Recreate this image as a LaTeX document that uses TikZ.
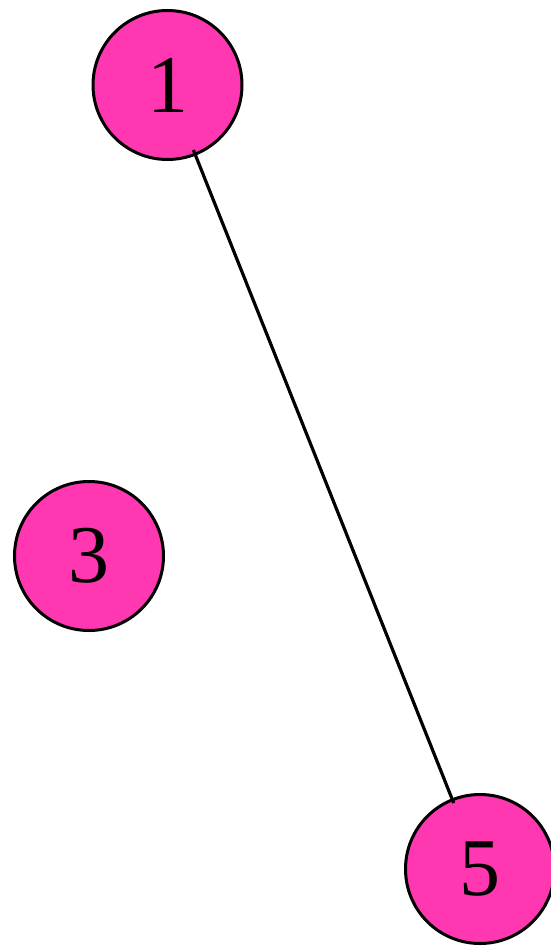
\documentclass[tikz,border=0pt]{standalone}
\usepackage{fontspec}
\setmainfont{Liberation Serif}
\definecolor{nodepink}{RGB}{255,56,178}
\begin{document}
\begin{tikzpicture}[x=1pt,y=-1pt,
  vertex/.style={circle,draw=black,line width=3pt,fill=nodepink,minimum size=149pt,inner sep=0pt,font=\fontsize{82}{82}\selectfont},
  edge/.style={line width=3.2pt,black}]
\useasboundingbox (0,0) rectangle (551,947);
\node[vertex] (n1) at (167.5,85) {1};
\node[vertex] (n3) at (89,556) {3};
\node[vertex] (n5) at (480,869) {5};
\draw[edge,shorten <=-6pt,shorten >=-5pt] (n1) -- (n5);
\end{tikzpicture}
\end{document}
